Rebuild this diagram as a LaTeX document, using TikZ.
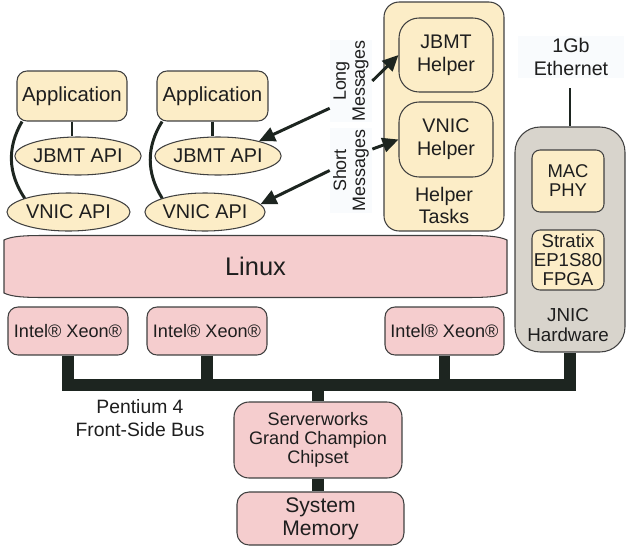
\documentclass[tikz,border=0pt]{standalone}
\usepackage{fontspec}
\setmainfont{Liberation Sans}
\usetikzlibrary{arrows.meta}
\usetikzlibrary{shapes.geometric}
\usetikzlibrary{calc}
\usepackage{xcolor}
\definecolor{cream}{HTML}{FCEDC7}
\definecolor{rose}{HTML}{F5CDCE}
\definecolor{stone}{HTML}{D8D4CC}
\definecolor{edge}{HTML}{404040}
\definecolor{bar}{HTML}{1D2520}
\definecolor{ink}{HTML}{1E1E1E}
\definecolor{lblbg}{HTML}{F9FBFD}

\begin{document}
\begin{tikzpicture}[x=0.02cm,y=-0.02cm,
    box/.style={shape=rectangle,rounded corners=2mm,draw=edge,line width=0.6pt,
      align=center,inner sep=0pt,text=ink},
    api/.style={shape=ellipse,draw=edge,line width=0.6pt,fill=cream,inner sep=0pt,
      minimum height=0.76cm,text=ink,font=\fontsize{11.3}{12}\selectfont},
    msglabel/.style={rotate=90,fill=lblbg,align=center,inner sep=0pt,text=ink,
      minimum height=0.84cm,font=\fontsize{10.2}{10.8}\selectfont},
    link/.style={draw=bar,line width=1.7pt},
    msg/.style={-{Triangle[length=3.2mm,width=2.9mm]},draw=bar,line width=1.7pt},
    bus/.style={draw=bar,line width=6.8pt,line join=miter}]
    %\draw[help lines,step=50] (0,0) grid (626,548); % only for layout
    \useasboundingbox (0,0) rectangle (626,548);

    % applications and their APIs
    \node[box,fill=cream,
      minimum width=2.2cm,minimum height=1cm,
      font=\fontsize{11.6}{13}\selectfont] (app1) at (72,96) {Application};
    \node[box,fill=cream,
      minimum width=2.22cm,minimum height=1cm,
      font=\fontsize{11.6}{13}\selectfont] (app2) at (212.5,96) {Application};
    \node[api,minimum width=2.4cm] (jbmt1) at (78,156) {JBMT API};
    \node[api,minimum width=2.4cm] (jbmt2) at (218,156) {JBMT API};
    \node[api,minimum width=2.46cm] (vnic1) at (68.5,212) {VNIC API};
    \node[api,minimum width=2.32cm] (vnic2) at (205,212) {VNIC API};

    \draw[link] (app1.south) -- (app1.south |- jbmt1.north);
    \draw[link] (app2.south) -- (app2.south |- jbmt2.north);
    \draw[link] ($(app1.south west)!0.05!(app1.south east)$) to[bend right=32] (vnic1.north west);
    \draw[link] ($(app2.south west)!0.05!(app2.south east)$) to[bend right=32] (vnic2.north west);

    % helper tasks
    \node[box,fill=cream,rounded corners=3mm,
      minimum width=2.4cm,minimum height=4.58cm] (helpers) at (444,116.5) {};
    \node[box,fill=cream,rounded corners=4mm,
      minimum width=1.88cm,minimum height=1.48cm,
      font=\fontsize{11.2}{13}\selectfont] (jhelp) at (446,55) {JBMT\\Helper};
    \node[box,fill=cream,rounded corners=4mm,
      minimum width=1.88cm,minimum height=1.5cm,
      font=\fontsize{11.2}{13}\selectfont] (vhelp) at (446,139.5) {VNIC\\Helper};
    \node[align=center,text=ink,
      font=\fontsize{11.2}{12.5}\selectfont] (htasks) at (444,205) {Helper\\Tasks};

    % message labels
    \node[msglabel,minimum width=1.64cm] (long) at (351,81) {Long\\Messages};
    \node[msglabel,minimum width=1.7cm] (short) at (351,170.5) {Short\\Messages};
    \draw[msg] ($(long.north west)!0.17!(long.north east)$) -- (jbmt2.20);
    \draw[msg] (long.south) -- (jhelp.west);
    \draw[msg] (short.north) -- (vnic2.8);
    \draw[msg] ($(short.south)!0.5!(short.south east)$) -- (vhelp.west);

    % JNIC hardware
    \node[box,fill=lblbg,draw=none,rounded corners=0pt,
      minimum width=2.14cm,minimum height=0.86cm,
      font=\fontsize{11.2}{13}\selectfont] (eth) at (571,57) {1Gb\\Ethernet};
    \node[box,fill=stone,rounded corners=5mm,
      minimum width=2.2cm,minimum height=4.5cm] (jnic) at (570,239.5) {};
    \node[box,fill=cream,rounded corners=1.6mm,
      minimum width=1.44cm,minimum height=1.24cm,
      font=\fontsize{10.5}{10.8}\selectfont] (mac) at (568,181) {MAC\\PHY};
    \node[box,fill=cream,rounded corners=1.6mm,
      minimum width=1.44cm,minimum height=1.2cm,
      font=\fontsize{10.6}{10.8}\selectfont] (fpga) at (568,260) {Stratix\\EP1S80\\FPGA};
    \node[align=center,text=ink,
      font=\fontsize{10.7}{11}\selectfont] (jhw) at (568,325) {JNIC\\Hardware};
    \draw[link] ($(jnic.north |- eth.south)+(0,9)$) -- (jnic.north);

    % Linux
    \draw[draw=edge,line width=0.6pt,fill=rose]
      (4,240) .. controls (12,236) and (25,235.5) .. (45,235.5) -- (465,235.5)
      .. controls (485,235.5) and (499,236) .. (507,240) -- (507,293)
      .. controls (499,297) and (485,297.5) .. (465,297.5) -- (45,297.5)
      .. controls (25,297.5) and (12,297) .. (4,293) -- cycle;
    \node[text=ink,font=\fontsize{14.5}{16}\selectfont] (linux) at (255.5,266.5) {Linux};

    % processors
    \node[box,fill=rose,
      minimum width=2.4cm,minimum height=0.96cm,
      font=\fontsize{10.3}{12}\selectfont] (xeon1) at (68,331) {Intel® Xeon®};
    \node[box,fill=rose,
      minimum width=2.4cm,minimum height=0.96cm,
      font=\fontsize{10.3}{12}\selectfont] (xeon2) at (207,331) {Intel® Xeon®};
    \node[box,fill=rose,
      minimum width=2.38cm,minimum height=0.96cm,
      font=\fontsize{10.3}{12}\selectfont] (xeon3) at (444.5,331) {Intel® Xeon®};

    % front-side bus
    \coordinate (fsb) at (0,385);
    \draw[bus] (xeon1.south) |- (fsb -| jnic.south) -- (jnic.south);
    \draw[bus] (xeon2.south) -- (xeon2.south |- fsb);
    \draw[bus] (xeon3.south) -- (xeon3.south |- fsb);
    \node[align=center,text=ink,
      font=\fontsize{11}{13}\selectfont] (fsbtxt) at (140,418) {Pentium 4\\Front-Side Bus};

    % chipset and memory
    \node[box,fill=rose,rounded corners=3mm,
      minimum width=3.36cm,minimum height=1.52cm,
      font=\fontsize{10.3}{10.8}\selectfont] (chip) at (318,440) {Serverworks\\Grand Champion\\Chipset};
    \node[box,fill=rose,rounded corners=2.4mm,
      minimum width=3.34cm,minimum height=1.06cm,
      font=\fontsize{12}{13}\selectfont] (mem) at (320.5,518.5) {System\\Memory};
    \draw[bus] (chip.north |- fsb) -- (chip.north);
    \draw[bus] (chip.south) -- (chip.south |- mem.north);

  \end{tikzpicture}
\end{document}
